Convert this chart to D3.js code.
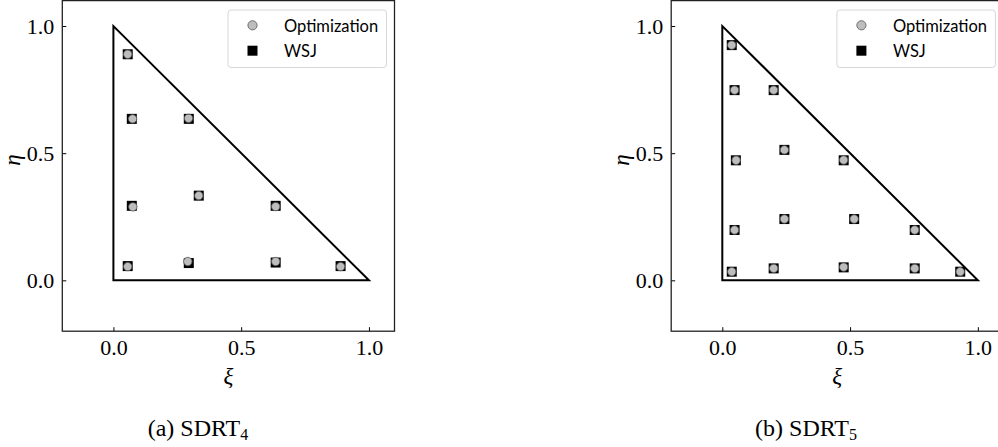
<!DOCTYPE html>
<html>
<head>
<meta charset="utf-8">
<script src="https://cdn.jsdelivr.net/npm/d3@7"></script>
<style>
  body { margin: 0; background: #fff; }
  svg { display: block; }
  .tick text { font-family: "Liberation Serif", "DejaVu Serif", serif; font-size: 22px; fill: #000; }
</style>
</head>
<body>
<div id="chart"></div>
<script>
  // quadrature points, [xi, eta]
  const sdrt4Wsj = [
    [0.056, 0.889], [0.072, 0.635], [0.295, 0.635], [0.072, 0.293], [0.334, 0.333],
    [0.635, 0.293], [0.056, 0.056], [0.295, 0.068], [0.635, 0.070], [0.889, 0.056]
  ];
  const sdrt4Opt = [
    [0.056, 0.889], [0.075, 0.635], [0.294, 0.637], [0.076, 0.289], [0.334, 0.333],
    [0.635, 0.290], [0.056, 0.054], [0.291, 0.074], [0.635, 0.074], [0.889, 0.054]
  ];
  const sdrt5Wsj = [
    [0.037, 0.925], [0.048, 0.748], [0.201, 0.748], [0.053, 0.472], [0.243, 0.513],
    [0.475, 0.472], [0.048, 0.198], [0.243, 0.241], [0.516, 0.241], [0.753, 0.198],
    [0.037, 0.034], [0.201, 0.047], [0.475, 0.051], [0.753, 0.047], [0.931, 0.034]
  ];
  const sdrt5Opt = [
    [0.037, 0.925], [0.048, 0.748], [0.201, 0.748], [0.054, 0.472], [0.243, 0.513],
    [0.475, 0.473], [0.048, 0.198], [0.243, 0.241], [0.516, 0.241], [0.753, 0.198],
    [0.037, 0.034], [0.201, 0.047], [0.475, 0.052], [0.753, 0.047], [0.931, 0.034]
  ];
  const triangle = [[0, 0], [1, 0], [0, 1]];
  const tickValues = [0, 0.5, 1.0];
  const legendLabels = ["Optimization", "WSJ"];
  const captions = [["(a) SDRT", "4"], ["(b) SDRT", "5"]];

  const W = 998, H = 447;
  const svg = d3.select("#chart").append("svg")
    .attr("width", W)
    .attr("height", H);

  const serif = "'Liberation Serif', 'DejaVu Serif', serif";

  // one panel per subfigure
  function drawPanel(left, wsj, opt, caption, captionX) {
    const x = d3.scaleLinear().domain([-0.2, 1.1]).range([left, left + 332.2]);
    const y = d3.scaleLinear().domain([-0.2, 1.1]).range([331.2, 0.6]);
    const g = svg.append("g");

    // axes, ticks pointing inward
    g.append("g")
      .attr("transform", "translate(0," + y(-0.2) + ")")
      .call(d3.axisBottom(x).tickValues(tickValues).tickSize(-4).tickPadding(8).tickFormat(d3.format(".1f")))
      .call(a => a.select(".domain").remove());
    g.append("g")
      .attr("transform", "translate(" + x(-0.2) + ",0)")
      .call(d3.axisLeft(y).tickValues(tickValues).tickSize(-4).tickPadding(8).tickFormat(d3.format(".1f")))
      .call(a => a.select(".domain").remove());

    g.selectAll(".tick line").attr("stroke", "#000");

    // frame
    g.append("rect")
      .attr("x", x(-0.2))
      .attr("y", y(1.1))
      .attr("width", x(1.1) - x(-0.2))
      .attr("height", y(-0.2) - y(1.1))
      .attr("fill", "none")
      .attr("stroke", "#222")
      .attr("stroke-width", 1.3);

    // reference triangle
    g.append("path")
      .datum(triangle)
      .attr("d", d3.line().x(d => x(d[0])).y(d => y(d[1])).curve(d3.curveLinearClosed))
      .attr("fill", "none")
      .attr("stroke", "#000")
      .attr("stroke-width", 2);

    // WSJ squares behind, optimization circles on top
    g.selectAll(".wsj")
      .data(wsj)
      .enter()
      .append("rect")
      .attr("x", d => x(d[0]) - 5)
      .attr("y", d => y(d[1]) - 5)
      .attr("width", 10)
      .attr("height", 10)
      .attr("fill", "#000");

    g.selectAll(".opt")
      .data(opt)
      .enter()
      .append("circle")
      .attr("cx", d => x(d[0]))
      .attr("cy", d => y(d[1]))
      .attr("r", 4.2)
      .attr("fill", "#bdbdbd")
      .attr("stroke", "#555")
      .attr("stroke-width", 0.8);

    // legend
    const lx = x(1.1) - 166.5, ly = 10;
    const leg = g.append("g").attr("transform", "translate(" + lx + "," + ly + ")");
    leg.append("rect")
      .attr("width", 158.5)
      .attr("height", 57.5)
      .attr("rx", 3)
      .attr("fill", "#fff")
      .attr("stroke", "#d6d6d6");
    leg.append("circle")
      .attr("cx", 24.5)
      .attr("cy", 15.3)
      .attr("r", 4.6)
      .attr("fill", "#bdbdbd")
      .attr("stroke", "#555")
      .attr("stroke-width", 0.8);
    leg.append("rect")
      .attr("x", 19.5)
      .attr("y", 35.7)
      .attr("width", 10)
      .attr("height", 10)
      .attr("fill", "#000");
    leg.selectAll(".lab")
      .data(legendLabels)
      .enter()
      .append("text")
      .attr("x", 56)
      .attr("y", (d, i) => 21.7 + i * 25)
      .style("font-family", "Lato, 'Open Sans', sans-serif")
      .style("font-size", "16.5px")
      .attr("fill", "#000")
      .text(d => d);

    // axis labels
    g.append("text")
      .attr("transform", "translate(" + (x(-0.2) - 42) + ",160) rotate(-90)")
      .attr("text-anchor", "middle")
      .style("font-family", serif)
      .style("font-style", "italic")
      .style("font-size", "23px")
      .text("η");
    g.append("text")
      .attr("x", x(0.45))
      .attr("y", 384)
      .attr("text-anchor", "middle")
      .style("font-family", serif)
      .style("font-style", "italic")
      .style("font-size", "23px")
      .text("ξ");

    // caption
    const cap = g.append("text")
      .attr("x", captionX)
      .attr("y", 436)
      .attr("text-anchor", "middle")
      .style("font-family", serif)
      .style("font-size", "24px");
    cap.append("tspan").text(caption[0]);
    cap.append("tspan")
      .attr("dy", 4)
      .style("font-size", "16px")
      .text(caption[1]);
  }

  drawPanel(62.3, sdrt4Wsj, sdrt4Opt, captions[0], 198);
  drawPanel(671.2, sdrt5Wsj, sdrt5Opt, captions[1], 806);
</script>
</body>
</html>
